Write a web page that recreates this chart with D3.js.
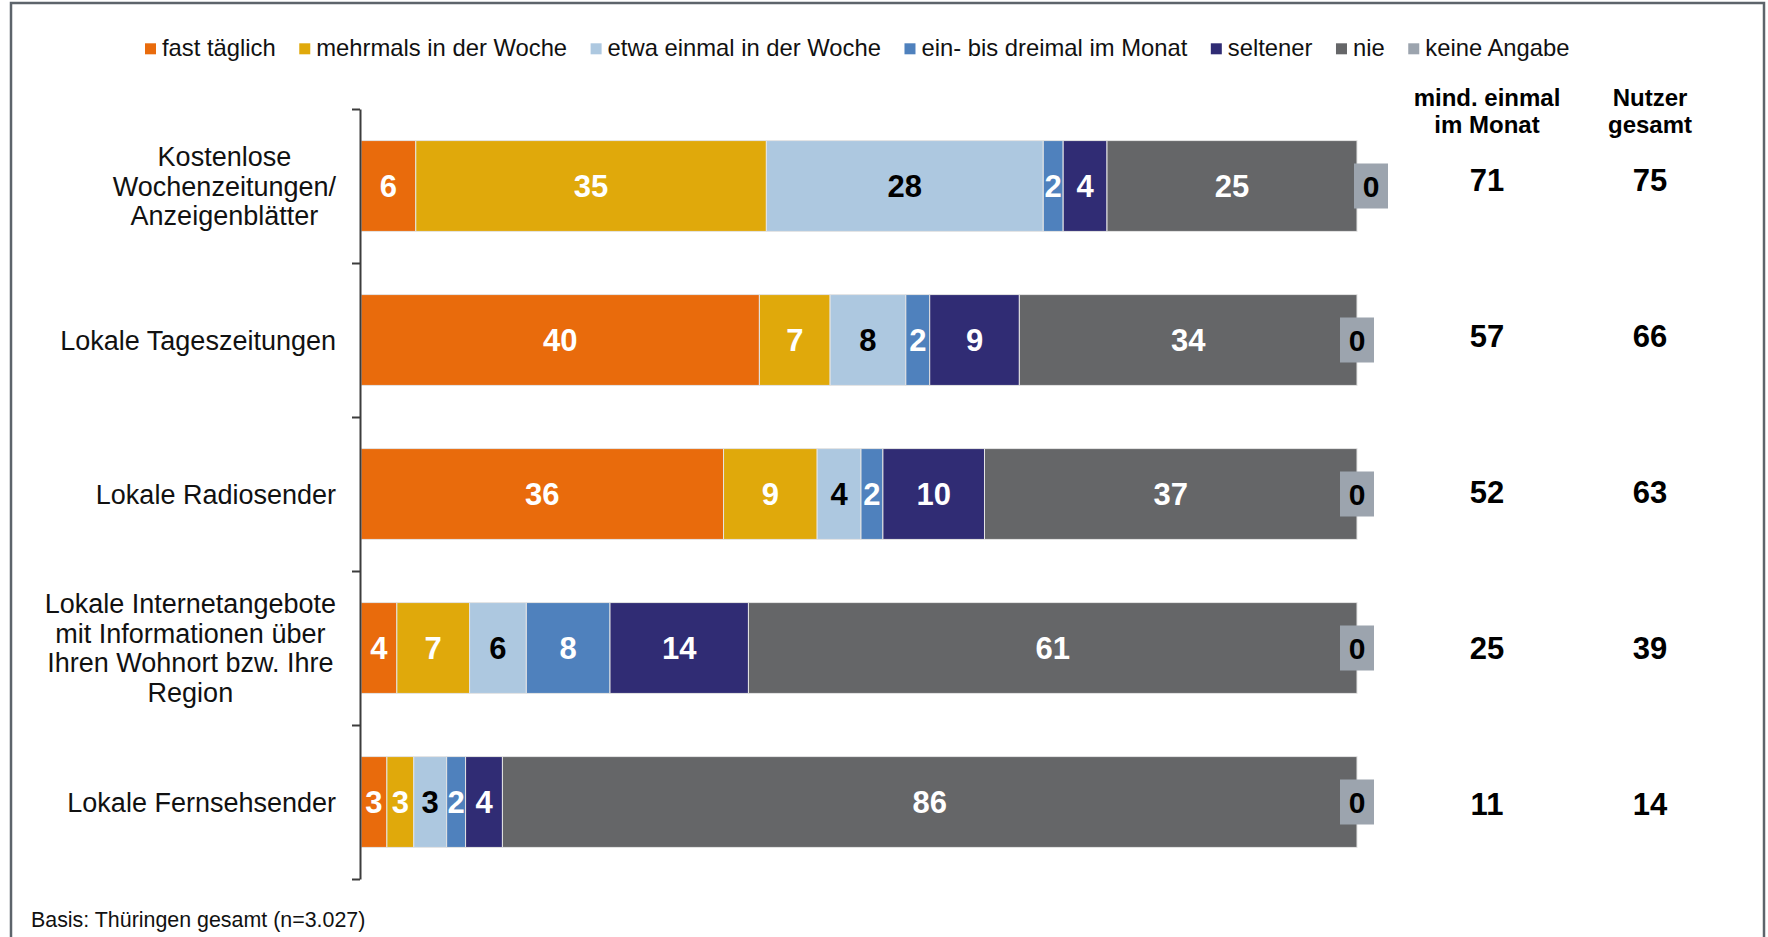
<!DOCTYPE html>
<html>
<head>
<meta charset="utf-8">
<script src="https://cdn.jsdelivr.net/npm/d3@7.9.0/dist/d3.min.js"></script>
<style>
  body { margin: 0; background: #fff; overflow: hidden; }
  svg { display: block; font-family: 'Liberation Sans', Arial, sans-serif; }
</style>
</head>
<body>
<svg id="chart" width="1768" height="937"></svg>
<script>
// categories (each entry = wrapped label lines)
const categories = [
  ['Kostenlose', 'Wochenzeitungen/', 'Anzeigenblätter'],
  ['Lokale Tageszeitungen'],
  ['Lokale Radiosender'],
  ['Lokale Internetangebote', 'mit Informationen über', 'Ihren Wohnort bzw. Ihre', 'Region'],
  ['Lokale Fernsehsender']
];

const seriesNames = ['fast täglich', 'mehrmals in der Woche', 'etwa einmal in der Woche',
  'ein- bis dreimal im Monat', 'seltener', 'nie', 'keine Angabe'];
const seriesColors = ['#E96B0C', '#E0A90B', '#ADC8E0', '#4F81BD', '#302C74', '#656668', '#9CA4AE'];
const labelColors = ['#fff', '#fff', '#000', '#fff', '#fff', '#fff', '#000'];

// shares in percent per series, one value per category
const fastTaeglich = [5.5, 40.0, 36.4, 3.6, 2.6];
const mehrmalsWoche = [35.2, 7.1, 9.4, 7.3, 2.7];
const einmalWoche = [27.8, 7.6, 4.4, 5.7, 3.3];
const einBisDreimalMonat = [2.0, 2.4, 2.2, 8.4, 1.9];
const seltener = [4.4, 9.0, 10.2, 13.9, 3.7];
const nie = [25.1, 33.9, 37.4, 61.1, 85.8];
const keineAngabe = [0, 0, 0, 0, 0];

// right-hand table
const tableHeaders = [['mind. einmal', 'im Monat'], ['Nutzer', 'gesamt']];
const mindEinmalMonat = [71, 57, 52, 25, 11];
const nutzerGesamt = [75, 66, 63, 39, 14];

const footnote = 'Basis: Thüringen gesamt (n=3.027)';

const seriesValues = [fastTaeglich, mehrmalsWoche, einmalWoche, einBisDreimalMonat, seltener, nie, keineAngabe];
const rows = categories.map((c, i) => {
  const r = { key: i };
  seriesNames.forEach((s, j) => { r[s] = seriesValues[j][i]; });
  return r;
});

const svg = d3.select('#chart');

// frame
svg.append('rect')
  .attr('x', 11).attr('y', 3)
  .attr('width', 1753).attr('height', 960)
  .attr('fill', 'none')
  .attr('stroke', '#5d646b')
  .attr('stroke-width', 2.5);

const x = d3.scaleLinear().domain([0, 100]).range([361, 1357]);
const y = d3.scaleBand()
  .domain(d3.range(categories.length))
  .range([109, 879])
  .paddingInner(0.41)
  .paddingOuter(0.205);

const stack = d3.stack().keys(seriesNames);
const stacked = stack(rows);

// bars
const layers = svg.append('g').attr('class', 'bars')
  .selectAll('g')
  .data(stacked)
  .join('g')
  .attr('fill', (d, i) => seriesColors[i]);

layers.selectAll('rect')
  .data(d => d)
  .join('rect')
  .attr('x', d => x(d[0]))
  .attr('y', d => y(d.data.key))
  .attr('width', d => x(d[1]) - x(d[0]))
  .attr('height', y.bandwidth())
  .attr('stroke', '#e4e4e4')
  .attr('stroke-width', 1);

// segment labels
stacked.forEach((layer, si) => {
  const g = svg.append('g').attr('class', 'labels');
  layer.forEach((d, ci) => {
    const val = seriesValues[si][ci];
    const cy = y(ci) + y.bandwidth() / 2;
    if (val === 0) {
      // zero value: label with background box at bar end
      const nudge = ci === 0 ? 14 : 0;
      const cx = x(d[1]) + nudge;
      g.append('rect')
        .attr('x', cx - 17).attr('y', cy - 22.5)
        .attr('width', 34).attr('height', 45)
        .attr('fill', seriesColors[si]);
      g.append('text')
        .attr('x', cx).attr('y', cy)
        .attr('text-anchor', 'middle')
        .attr('dominant-baseline', 'central')
        .attr('font-size', 30).attr('font-weight', 'bold')
        .attr('fill', labelColors[si])
        .text(Math.round(val));
      return;
    }
    g.append('text')
      .attr('x', (x(d[0]) + x(d[1])) / 2)
      .attr('y', cy)
      .attr('text-anchor', 'middle')
      .attr('dominant-baseline', 'central')
      .attr('font-size', 31).attr('font-weight', 'bold')
      .attr('fill', labelColors[si])
      .text(Math.round(val));
  });
});

// category axis with ticks between the bands
const yEdge = d3.scaleLinear().domain([0, categories.length]).range([109, 879]);
const axis = svg.append('g')
  .attr('transform', 'translate(360,0)')
  .call(d3.axisLeft(yEdge).tickValues(d3.range(categories.length + 1)).tickFormat('').tickSizeInner(8).tickSizeOuter(0));
axis.selectAll('path, line').attr('stroke', '#3c3c3c').attr('stroke-width', 2);

// category labels
const lineH = 29.5;
const catG = svg.append('g').attr('class', 'cat-labels');
categories.forEach((lines, i) => {
  const cy = y(i) + y.bandwidth() / 2;
  const t = catG.append('text')
    .attr('text-anchor', 'middle')
    .attr('font-size', 27)
    .attr('fill', '#111');
  const first = cy - (lines.length - 1) / 2 * lineH + 9.5;
  lines.forEach((l, k) => {
    t.append('tspan').attr('y', first + k * lineH).text(l);
  });
  let maxW = 0;
  t.selectAll('tspan').each(function () { maxW = Math.max(maxW, this.getComputedTextLength()); });
  const cx = 336 - maxW / 2;
  t.selectAll('tspan').attr('x', cx);
});

// legend
let lx = 145;
const legend = svg.append('g').attr('class', 'legend');
seriesNames.forEach((name, i) => {
  legend.append('rect')
    .attr('x', lx).attr('y', 43.3)
    .attr('width', 11).attr('height', 11)
    .attr('fill', seriesColors[i]);
  const t = legend.append('text')
    .attr('x', lx + 17).attr('y', 56)
    .attr('font-size', 23.8)
    .attr('fill', '#111')
    .text(name);
  lx += 17 + t.node().getComputedTextLength() + 23.5;
});

// right table
const colX = [1487, 1650];
const rowY = d3.scalePoint().domain(d3.range(categories.length)).range([180.5, 804]);
tableHeaders.forEach((lines, c) => {
  const t = svg.append('text')
    .attr('text-anchor', 'middle')
    .attr('font-size', 24).attr('font-weight', 'bold')
    .attr('fill', '#000');
  lines.forEach((l, k) => {
    t.append('tspan').attr('x', colX[c]).attr('y', 106 + k * 27).text(l);
  });
});
[mindEinmalMonat, nutzerGesamt].forEach((col, c) => {
  svg.append('g').selectAll('text')
    .data(col)
    .join('text')
    .attr('x', colX[c])
    .attr('y', (d, i) => rowY(i))
    .attr('text-anchor', 'middle')
    .attr('dominant-baseline', 'central')
    .attr('font-size', 31).attr('font-weight', 'bold')
    .attr('fill', '#000')
    .text(d => d);
});

// footnote
svg.append('text')
  .attr('x', 31).attr('y', 927)
  .attr('font-size', 21.4)
  .attr('fill', '#111')
  .text(footnote);
</script>
</body>
</html>
